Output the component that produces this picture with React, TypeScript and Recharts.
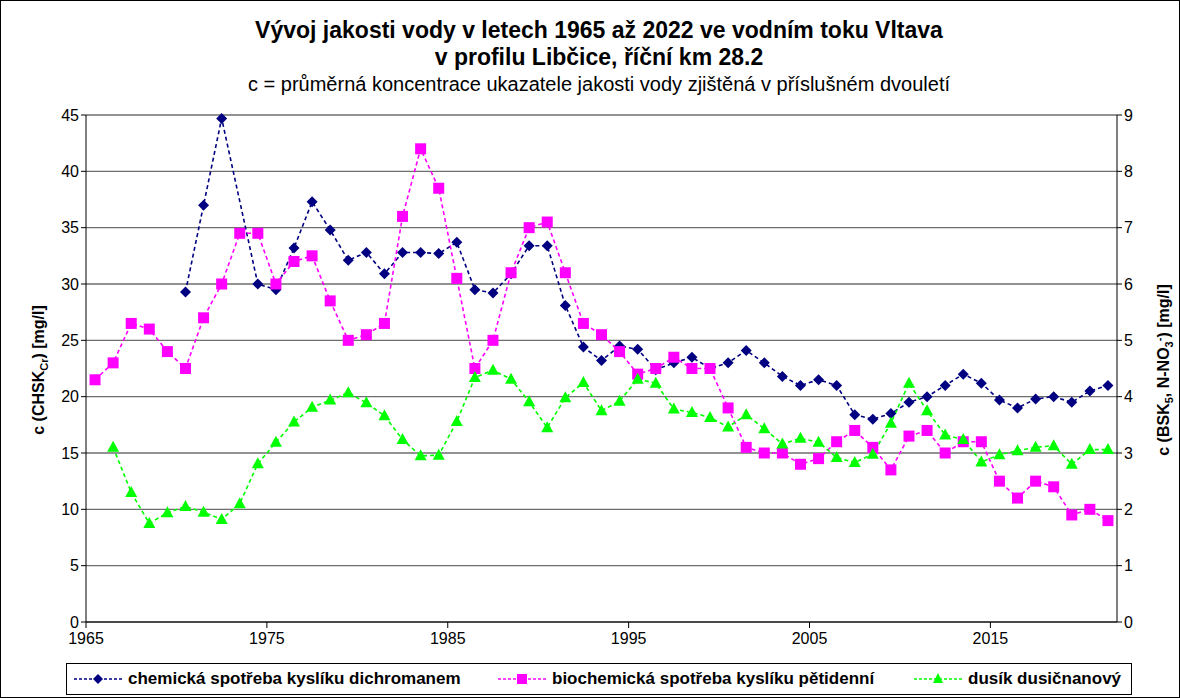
import { LineChart, Line, XAxis, YAxis, CartesianGrid } from "recharts";

// midpoint of each biennium is plotted at year + 0.5
const YEARS = [
  1965, 1966, 1967, 1968, 1969, 1970, 1971, 1972, 1973, 1974,
  1975, 1976, 1977, 1978, 1979, 1980, 1981, 1982, 1983, 1984,
  1985, 1986, 1987, 1988, 1989, 1990, 1991, 1992, 1993, 1994,
  1995, 1996, 1997, 1998, 1999, 2000, 2001, 2002, 2003, 2004,
  2005, 2006, 2007, 2008, 2009, 2010, 2011, 2012, 2013, 2014,
  2015, 2016, 2017, 2018, 2019, 2020, 2021,
];

// CHSK-Cr [mg/l], left axis
const CHSK = [
  null, null, null, null, null, 29.3, 37.0, 44.7, null, 30.0,
  29.5, 33.2, 37.3, 34.8, 32.1, 32.8, 30.9, 32.8, 32.8, 32.7,
  33.7, 29.5, 29.2, 30.9, 33.4, 33.4, 28.1, 24.4, 23.2, 24.5,
  24.2, 22.4, 23.0, 23.5, 22.5, 23.0, 24.1, 23.0, 21.8, 21.0,
  21.5, 21.0, 18.4, 18.0, 18.5, 19.5, 20.0, 21.0, 22.0, 21.2,
  19.7, 19.0, 19.8, 20.0, 19.5, 20.5, 21.0,
];

// BSK5 [mg/l], right axis
const BSK5 = [
  4.3, 4.6, 5.3, 5.2, 4.8, 4.5, 5.4, 6.0, 6.9, 6.9,
  6.0, 6.4, 6.5, 5.7, 5.0, 5.1, 5.3, 7.2, 8.4, 7.7,
  6.1, 4.5, 5.0, 6.2, 7.0, 7.1, 6.2, 5.3, 5.1, 4.8,
  4.4, 4.5, 4.7, 4.5, 4.5, 3.8, 3.1, 3.0, 3.0, 2.8,
  2.9, 3.2, 3.4, 3.1, 2.7, 3.3, 3.4, 3.0, 3.2, 3.2,
  2.5, 2.2, 2.5, 2.4, 1.9, 2.0, 1.8,
];

// N-NO3 [mg/l], right axis
const NNO3 = [
  null, 3.1, 2.3, 1.75, 1.94, 2.05, 1.95, 1.82, 2.1, 2.81,
  3.19, 3.55, 3.81, 3.94, 4.07, 3.89, 3.66, 3.24, 2.95, 2.96,
  3.56, 4.34, 4.47, 4.31, 3.91, 3.45, 3.98, 4.25, 3.75, 3.92,
  4.31, 4.24, 3.78, 3.72, 3.63, 3.46, 3.68, 3.43, 3.16, 3.26,
  3.19, 2.92, 2.83, 2.98, 3.53, 4.24, 3.75, 3.32, 3.24, 2.84,
  2.97, 3.04, 3.1, 3.13, 2.8, 3.06, 3.06,
];

const X_TICKS = [1965, 1975, 1985, 1995, 2005, 2015];
const LEFT_TICKS = [0, 5, 10, 15, 20, 25, 30, 35, 40, 45];
const RIGHT_TICKS = [0, 1, 2, 3, 4, 5, 6, 7, 8, 9];

const NAVY = "#000080";
const MAGENTA = "#FF00FF";
const GREEN = "#00FF00";
const FONT = "'Liberation Sans', Arial, sans-serif";

const data = YEARS.map((y, i) => ({
  x: y + 0.5,
  chsk: CHSK[i],
  bsk: BSK5[i],
  no3: NNO3[i],
}));

const Diamond = (p: any) => {
  const { cx, cy } = p;
  if (cx == null || cy == null || p.value == null) return <g key={p.key} />;
  return (
    <polygon
      key={p.key}
      points={`${cx},${cy - 5.5} ${cx + 5.5},${cy} ${cx},${cy + 5.5} ${cx - 5.5},${cy}`}
      fill={NAVY}
    />
  );
};

const Square = (p: any) => {
  const { cx, cy } = p;
  if (cx == null || cy == null || p.value == null) return <g key={p.key} />;
  return <rect key={p.key} x={cx - 5.5} y={cy - 5.5} width={11} height={11} fill={MAGENTA} />;
};

const Triangle = (p: any) => {
  const { cx, cy } = p;
  if (cx == null || cy == null || p.value == null) return <g key={p.key} />;
  return (
    <polygon
      key={p.key}
      points={`${cx},${cy - 6.5} ${cx + 6},${cy + 4.5} ${cx - 6},${cy + 4.5}`}
      fill={GREEN}
    />
  );
};

function LegendItem({ color, shape, label, left }: { color: string; shape: string; label: string; left: number }) {
  return (
    <div style={{ position: "absolute", left, top: 0, height: 30, display: "flex", alignItems: "center", gap: 5 }}>
      <svg width={50} height={14}>
        <line x1={1} y1={7} x2={49} y2={7} stroke={color} strokeWidth={1.5} strokeDasharray="3 2" />
        {shape === "diamond" && <polygon points="25,2 30,7 25,12 20,7" fill={color} />}
        {shape === "square" && <rect x={20} y={2} width={10} height={10} fill={color} />}
        {shape === "triangle" && <polygon points="25,1 30,11 20,11" fill={color} />}
      </svg>
      <span style={{ whiteSpace: "nowrap" }}>{label}</span>
    </div>
  );
}

export default function App() {
  const tick = { fill: "#000", fontSize: 16, fontFamily: FONT };
  return (
    <div
      style={{
        position: "absolute",
        left: 0,
        top: 0,
        width: 1180,
        height: 698,
        boxSizing: "border-box",
        border: "1px solid #000",
        background: "#fff",
        fontFamily: FONT,
        overflow: "hidden",
      }}
    >
      {/* Title */}
      <div style={{ position: "absolute", left: 0, top: 16, width: 1196, textAlign: "center", lineHeight: "27px" }}>
        <div style={{ fontSize: 23, fontWeight: 700 }}>Vývoj jakosti vody v letech 1965 až 2022 ve vodním toku Vltava</div>
        <div style={{ fontSize: 23, fontWeight: 700 }}>v profilu Libčice, říční km 28.2</div>
        <div style={{ fontSize: 20 }}>c = průměrná koncentrace ukazatele jakosti vody zjištěná v příslušném dvouletí</div>
      </div>

      <div style={{ position: "absolute", left: -1, top: -1 }}>
        <LineChart width={1180} height={698} data={data} margin={{ top: 115, right: 0, bottom: 46, left: 0 }}>
          <CartesianGrid yAxisId="left" vertical={false} stroke="#6e6e6e" strokeWidth={1.3} />
          <XAxis
            dataKey="x"
            type="number"
            domain={[1965, 2022]}
            ticks={X_TICKS}
            allowDataOverflow
            height={30}
            tick={tick}
            tickSize={6}
            stroke="#000"
            tickMargin={5}
          />
          <YAxis
            yAxisId="left"
            domain={[0, 45]}
            ticks={LEFT_TICKS}
            width={86}
            tick={tick}
            tickSize={5}
            stroke="#000"
            interval={0}
          />
          <YAxis
            yAxisId="right"
            orientation="right"
            domain={[0, 9]}
            ticks={RIGHT_TICKS}
            width={63}
            tick={tick}
            tickSize={5}
            stroke="#000"
            interval={0}
          />
          <Line
            yAxisId="left"
            dataKey="chsk"
            stroke={NAVY}
            strokeWidth={1.6}
            strokeDasharray="4 3"
            connectNulls
            dot={Diamond}
            isAnimationActive={false}
          />
          <Line
            yAxisId="right"
            dataKey="bsk"
            stroke={MAGENTA}
            strokeWidth={1.6}
            strokeDasharray="4 3"
            dot={Square}
            isAnimationActive={false}
          />
          <Line
            yAxisId="right"
            dataKey="no3"
            stroke={GREEN}
            strokeWidth={1.6}
            strokeDasharray="4 3"
            dot={Triangle}
            isAnimationActive={false}
          />
        </LineChart>
      </div>

      {/* Axis titles */}
      <div
        style={{
          position: "absolute",
          left: 39,
          top: 369,
          transform: "translate(-50%, -50%) rotate(-90deg)",
          whiteSpace: "nowrap",
          fontSize: 16,
          fontWeight: 700,
        }}
      >
        c (CHSK<sub style={{ fontSize: 11 }}>Cr</sub>) [mg/l]
      </div>
      <div
        style={{
          position: "absolute",
          left: 1163,
          top: 369,
          transform: "translate(-50%, -50%) rotate(-90deg)",
          whiteSpace: "nowrap",
          fontSize: 16,
          fontWeight: 700,
        }}
      >
        c (BSK<sub style={{ fontSize: 11 }}>5</sub>, N-NO<sub style={{ fontSize: 11 }}>3</sub>
        <sup style={{ fontSize: 11 }}>-</sup>) [mg/l]
      </div>

      {/* Legend */}
      <div
        style={{
          position: "absolute",
          left: 65,
          top: 662,
          width: 1066,
          height: 32,
          boxSizing: "border-box",
          border: "1px solid #000",
          fontSize: 17,
          fontWeight: 700,
        }}
      >
        <LegendItem left={6} color={NAVY} shape="diamond" label="chemická spotřeba kyslíku dichromanem" />
        <LegendItem left={430} color={MAGENTA} shape="square" label="biochemická spotřeba kyslíku pětidenní" />
        <LegendItem left={846} color={GREEN} shape="triangle" label="dusík dusičnanový" />
      </div>
    </div>
  );
}
